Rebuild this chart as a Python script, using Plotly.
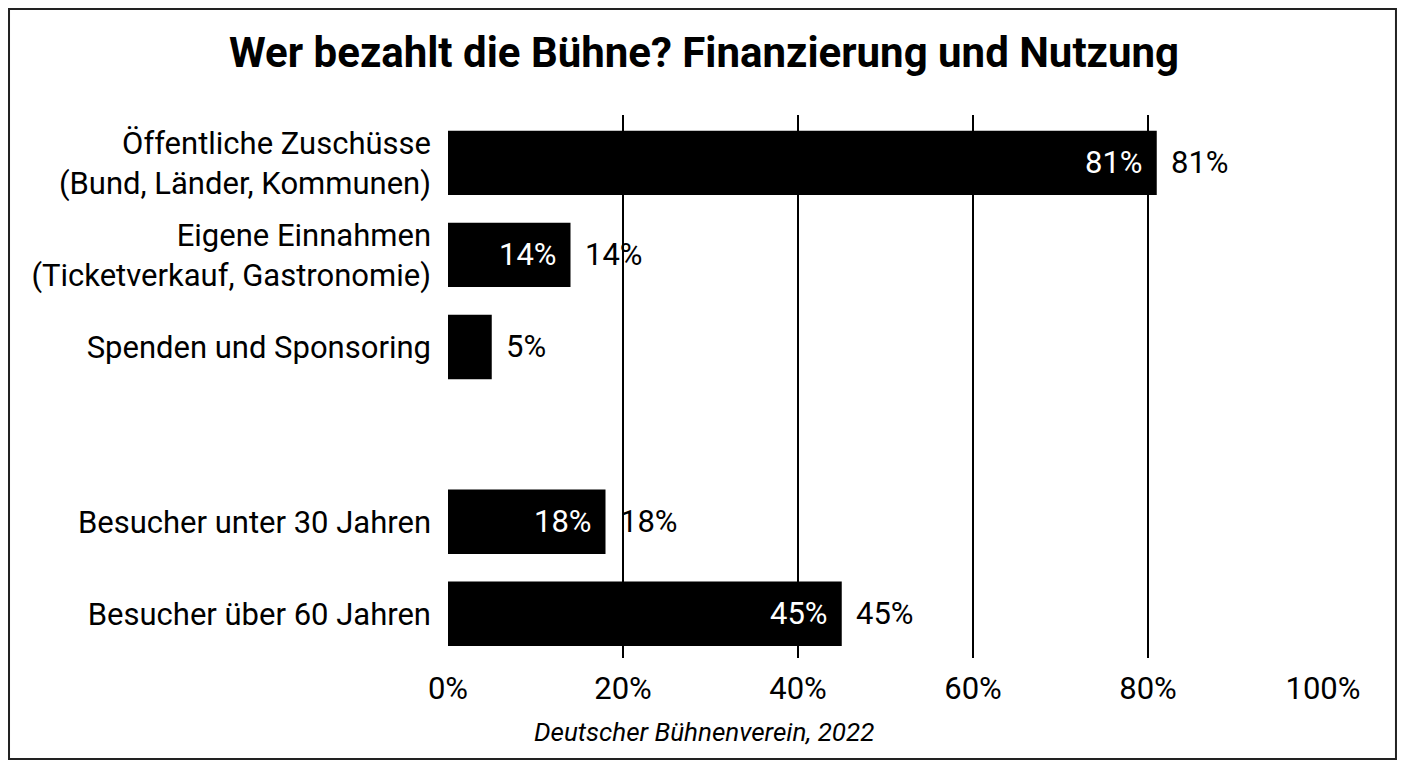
import plotly.graph_objects as go

categories = [
    "Öffentliche Zuschüsse<br>(Bund, Länder, Kommunen)",
    "Eigene Einnahmen<br>(Ticketverkauf, Gastronomie)",
    "Spenden und Sponsoring",
    "Besucher unter 30 Jahren",
    "Besucher über 60 Jahren",
]
values = [81, 14, 5, 18, 45]
inside_labels = ["81%", "14%", "", "18%", "45%"]
outside_labels = ["81%", "14%", "5%", "18%", "45%"]
x_ticks = [0, 20, 40, 60, 80, 100]
# slot positions: a gap separates the financing group from the visitor group
positions = [0, 1, 2, 3.9, 4.9]

FONT = "Roboto"

fig = go.Figure()
fig.add_trace(go.Bar(
    y=positions, x=values,
    orientation="h", marker=dict(color="black", line=dict(width=0)),
    width=0.7, showlegend=False, hoverinfo="skip",
))

annotations = []
for p, v, t_in, t_out in zip(positions, values, inside_labels, outside_labels):
    if t_in:
        annotations.append(dict(x=v, y=p, xref="x", yref="y", text=t_in, showarrow=False,
                                xanchor="right", xshift=-12,
                                font=dict(family=FONT, size=31, color="white")))
    if t_out:
        annotations.append(dict(x=v, y=p, xref="x", yref="y", text=t_out, showarrow=False,
                                xanchor="left", xshift=12,
                                font=dict(family=FONT, size=31, color="black")))

annotations.append(dict(x=0.2926, y=-0.136, xref="paper", yref="paper",
                        text="<i>Deutscher Bühnenverein, 2022</i>", showarrow=False,
                        xanchor="center", yanchor="middle",
                        font=dict(family=FONT, size=26, color="black")))

fig.update_layout(
    width=1408, height=768,
    margin=dict(l=448, r=85, t=115, b=110),
    paper_bgcolor="white", plot_bgcolor="white",
    font=dict(family=FONT, color="black"),
    title=dict(text="<b>Wer bezahlt die Bühne? Finanzierung und Nutzung</b>",
               x=0.5, xref="container", xanchor="center", y=0.932, yanchor="middle",
               font=dict(family=FONT, size=42, color="black")),
    xaxis=dict(range=[0, 100], tickvals=x_ticks, ticktext=[f"{t}%" for t in x_ticks],
               showgrid=True, gridcolor="black", gridwidth=1.5, zeroline=False,
               showline=False, ticks="", tickfont=dict(family=FONT, size=31),
               ticklabelstandoff=9),
    yaxis=dict(range=[5.38, -0.52], tickvals=positions, ticktext=categories,
               showgrid=False, zeroline=False, showline=False, ticks="",
               tickfont=dict(family=FONT, size=31), ticklabelstandoff=16),
    annotations=annotations,
    shapes=[dict(type="rect", xref="paper", yref="paper",
                 x0=-0.5017, x1=1.0834, y0=-0.186, y1=1.1952,
                 line=dict(color="#222", width=2), fillcolor="rgba(0,0,0,0)", layer="above")],
)

fig.write_html("out.html")
